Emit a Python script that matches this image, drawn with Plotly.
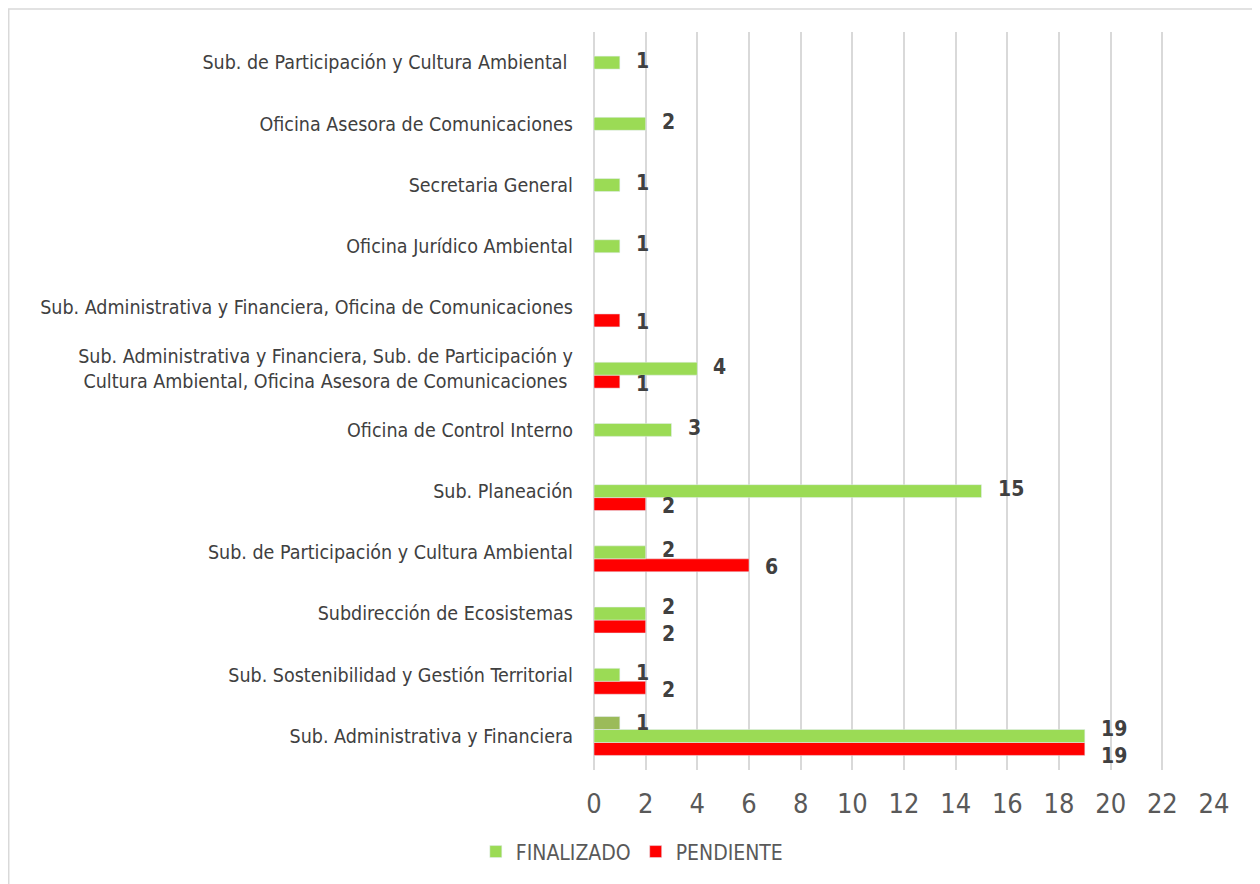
import plotly.graph_objects as go

# Categories listed top-to-bottom as in the picture
categories = [
    "Sub. de Participación y Cultura Ambiental ",
    "Oficina Asesora de Comunicaciones",
    "Secretaria General",
    "Oficina Jurídico Ambiental",
    "Sub. Administrativa y Financiera, Oficina de Comunicaciones",
    "Sub. Administrativa y Financiera, Sub. de Participación y<br>Cultura Ambiental, Oficina Asesora de Comunicaciones ",
    "Oficina de Control Interno",
    "Sub. Planeación",
    "Sub. de Participación y Cultura Ambiental",
    "Subdirección de Ecosistemas",
    "Sub. Sostenibilidad y Gestión Territorial",
    "Sub. Administrativa y Financiera",
]
finalizado = [1, 2, 1, 1, None, 4, 3, 15, 2, 2, 1, 19]
pendiente = [None, None, None, None, 1, 1, None, 2, 6, 2, 2, 19]
otro = [None, None, None, None, None, None, None, None, None, None, None, 1]
x_ticks = list(range(0, 25, 2))

GREEN = "#9BDB55"
RED = "#FF0000"
OLIVE = "#9BBB59"
NARROW = "Liberation Sans Narrow, Arial Narrow, DejaVu Sans Condensed, sans-serif"

fig = go.Figure()
# order: first trace drawn at bottom of each group
fig.add_trace(go.Bar(y=categories, x=pendiente, orientation="h", name="PENDIENTE",
                     marker=dict(color=RED), legendrank=2))
fig.add_trace(go.Bar(y=categories, x=finalizado, orientation="h", name="FINALIZADO",
                     marker=dict(color=GREEN), legendrank=1))
fig.add_trace(go.Bar(y=categories, x=otro, orientation="h", name="",
                     marker=dict(color=OLIVE), showlegend=False))

# data labels (bar slot offsets in pixels; extra spread when two labels share an x)
slot_shift = {"PENDIENTE": -15, "FINALIZADO": 2, "otro": 13}
for series, key in ((pendiente, "PENDIENTE"), (finalizado, "FINALIZADO"), (otro, "otro")):
    for i, (cat, val) in enumerate(zip(categories, series)):
        if val is None:
            continue
        ys = slot_shift[key]
        if finalizado[i] is not None and pendiente[i] is not None and finalizado[i] == pendiente[i]:
            ys += 5 if key == "FINALIZADO" else -5 if key == "PENDIENTE" else 0
        fig.add_annotation(x=val, y=cat, xref="x", yref="y", text=f"<b>{val}</b>",
                           showarrow=False, xanchor="left", yanchor="middle",
                           xshift=14, yshift=ys,
                           font=dict(family=NARROW, size=21, color="#404040"))

fig.update_layout(
    width=1260, height=884,
    margin=dict(l=586, r=54, t=24, b=122, autoexpand=False),
    paper_bgcolor="white", plot_bgcolor="white",
    barmode="group", bargap=0.365, bargroupgap=0,
    showlegend=True,
    legend=dict(orientation="h", x=0.061, xanchor="center", y=-0.111, yanchor="middle",
                font=dict(family=NARROW, size=21, color="#595959"),
                itemwidth=30, traceorder="normal"),
    xaxis=dict(range=[0, 24], tickvals=x_ticks, ticktext=[str(v) for v in x_ticks],
               automargin=False,
               showgrid=True, gridcolor="#D9D9D9", gridwidth=2,
               zeroline=True, zerolinecolor="#D9D9D9", zerolinewidth=2,
               showline=False, ticks="", ticklen=0, ticklabelstandoff=15,
               tickfont=dict(family=NARROW, size=27, color="#595959")),
    yaxis=dict(categoryorder="array", categoryarray=categories[::-1],
               automargin=False,
               showgrid=False, showline=False, ticks="", ticklabelstandoff=20,
               tickfont=dict(family=NARROW, size=19.5, color="#404040")),
    shapes=[dict(type="rect", xref="paper", yref="paper",
                 x0=-0.944, x1=1.2, y0=-0.2, y1=1.031,
                 line=dict(color="#D9D9D9", width=1.5), layer="below")],
)

fig.write_html("out.html")
